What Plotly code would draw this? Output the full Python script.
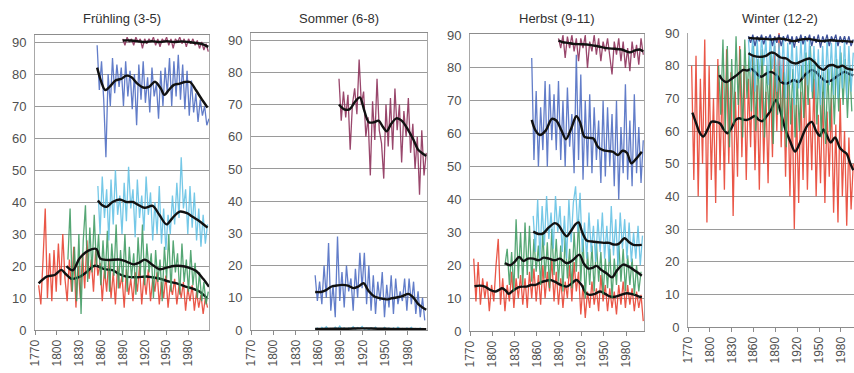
import plotly.graph_objects as go

# ---------------- data ----------------
STEP = 3

# Panel 1: Frühling (3-5)
fr_red_start = 1775
fr_red = [14, 8, 22, 38, 10, 24, 9, 25, 12, 27, 14, 30, 16, 9, 22, 12, 26, 7, 20, 10, 24, 13, 28, 16, 22, 12, 25, 17, 21, 9,
          19, 12, 22, 10, 18, 8, 20, 13, 17, 7, 19, 11, 16, 9, 18, 12, 20, 8, 17, 11, 19, 9, 16, 12, 18, 8, 15, 10, 17, 7,
          14, 11, 16, 8, 14, 10, 15, 6, 13, 9, 14, 6, 12, 7, 11, 5, 10, 7]
fr_red_sm_x = [1775, 1786, 1797, 1806, 1812, 1820, 1830, 1840, 1850, 1855, 1865, 1876, 1885, 1895, 1910, 1922, 1930, 1940, 1954, 1965, 1977, 1985, 1995, 2005]
fr_red_sm_y = [14.6, 16.7, 17.2, 18.8, 17.5, 16, 16.5, 18, 20, 20, 19, 18.7, 17.5, 16.7, 16.5, 16.7, 16.5, 16.1, 15.1, 14.5, 13.5, 13, 12, 10]
fr_green_start = 1815
fr_green = [22, 38, 12, 26, 9, 30, 5, 28, 39, 15, 32, 18, 36, 20, 30, 14, 28, 16, 31, 12, 27, 17, 33, 13, 25, 15, 30, 12, 26, 16,
            24, 11, 29, 17, 33, 14, 27, 18, 24, 10, 25, 15, 22, 9, 26, 16, 30, 12, 28, 18, 24, 11, 27, 15, 22, 12, 25, 14, 21, 10,
            18, 9, 15, 8, 12]
fr_green_sm_x = [1813, 1822, 1831, 1843, 1854, 1859, 1868, 1886, 1895, 1905, 1912, 1920, 1930, 1940, 1950, 1960, 1970, 1980, 1990, 2000, 2008]
fr_green_sm_y = [20, 18.7, 22.4, 24.8, 25.3, 22.4, 21.9, 22, 21.4, 20.5, 21, 22, 20.5, 19, 19.5, 20, 20, 19.5, 18.5, 16, 13.5]
fr_cyan_start = 1856
fr_cyan = [45, 30, 48, 35, 44, 28, 47, 33, 50, 36, 42, 30, 46, 34, 51, 38, 44, 29, 47, 35, 42, 31, 48, 36, 43, 28, 40, 30, 45, 27,
           38, 25, 36, 30, 42, 33, 46, 35, 54, 38, 44, 30, 45, 32, 43, 28, 38, 26, 36, 27, 33]
fr_cyan_sm_x = [1856, 1862, 1868, 1876, 1886, 1895, 1904, 1912, 1920, 1931, 1940, 1950, 1958, 1968, 1978, 1986, 1995, 2006]
fr_cyan_sm_y = [40.5, 39, 38.5, 40, 40.8, 40, 40, 39, 38.2, 38.8, 36, 33, 35, 37, 36.5, 35.3, 34, 32]
fr_blue_start = 1855
fr_blue = [89, 75, 84, 72, 54, 80, 70, 85, 74, 83, 76, 82, 70, 84, 73, 81, 69, 80, 64, 83, 72, 84, 71, 79, 68, 82, 73, 77, 66, 81,
           70, 82, 74, 85, 70, 84, 73, 86, 72, 83, 69, 81, 67, 78, 68, 74, 65, 72, 67, 70, 64, 66]
fr_blue_sm_x = [1855, 1860, 1866, 1872, 1880, 1888, 1895, 1902, 1910, 1918, 1926, 1934, 1942, 1947, 1953, 1960, 1968, 1975, 1982, 1990, 1997, 2006]
fr_blue_sm_y = [82, 78, 75, 76, 78, 78.5, 79.5, 79, 77, 75.8, 76, 77.6, 75.5, 73.5, 75, 76.6, 77, 77.5, 77.5, 75, 72.5, 69.5]
fr_maroon_start = 1890
fr_maroon = [91, 89, 91.5, 90, 91, 89, 91.5, 90, 91, 88, 91, 89.5, 91, 90, 91.5, 89, 91, 88.5, 91, 90, 91.5, 89, 91, 88, 91,
             90, 91.5, 89.5, 91, 88.5, 91, 89.5, 91, 89, 90.5, 88, 90, 87.5, 89.5, 87]
fr_maroon_sm_x = [1890, 1900, 1910, 1920, 1930, 1940, 1950, 1960, 1970, 1980, 1990, 2000, 2007]
fr_maroon_sm_y = [90.5, 90.5, 90.3, 90, 90.3, 90, 90.3, 90, 90.2, 90, 89.7, 89.3, 88.5]

# Panel 2: Sommer (6-8)
so_blue_start = 1856
so_blue = [17, 9, 15, 8, 20, 10, 27, 6, 14, 4, 29, 9, 18, 7, 20, 12, 16, 6, 19, 10, 24, 13, 24, 8, 20, 6, 17, 5, 15, 9,
           18, 4, 14, 7, 17, 5, 16, 8, 12, 9, 16, 6, 16, 8, 15, 5, 12, 4, 10, 3]
so_blue_sm_x = [1856, 1864, 1870, 1878, 1885, 1892, 1900, 1907, 1914, 1921, 1928, 1936, 1944, 1952, 1958, 1965, 1973, 1981, 1988, 1994, 2000, 2005]
so_blue_sm_y = [11.8, 11.8, 12.3, 13.5, 13.8, 14, 13.8, 13, 13.5, 14.5, 12, 10.3, 9.8, 9.5, 9.8, 10.1, 10.5, 11.2, 10, 8.1, 7, 6.3]
so_cyan_start = 1856
so_cyan = [0.2, 0.6, 0.1, 0.8, 0.3, 1.0, 0.2, 0.5, 0.1, 0.9, 0.3, 1.2, 0.2, 0.7, 0.1, 0.6, 0.3, 1.0, 0.2, 0.8, 0.4, 1.1, 0.2, 0.6, 0.1,
           0.7, 0.3, 0.9, 0.2, 0.5, 0.1, 0.8, 0.3, 0.6, 0.1, 0.7, 0.2, 0.9, 0.3, 0.5, 0.1, 0.6, 0.2, 0.8, 0.1, 0.5, 0.2, 0.6, 0.1, 0.4]
so_cyan_sm_x = [1856, 1880, 1900, 1920, 1940, 1960, 1980, 2005]
so_cyan_sm_y = [0.3, 0.4, 0.4, 0.5, 0.4, 0.35, 0.3, 0.25]
so_maroon_start = 1888
so_maroon = [78, 65, 74, 66, 73, 56, 70, 75, 67, 84, 70, 74, 60, 66, 48, 71, 59, 78, 62, 58, 47, 70, 57, 72, 56, 75, 62, 70, 52, 68,
             60, 72, 55, 64, 50, 60, 42, 62, 48, 55]
so_maroon_sm_x = [1888, 1895, 1902, 1910, 1916, 1922, 1928, 1935, 1941, 1947, 1952, 1958, 1965, 1972, 1981, 1988, 1994, 2000, 2005]
so_maroon_sm_y = [70, 68.5, 68.5, 71, 72.2, 68, 64.5, 64.5, 65, 63, 61.7, 64, 65.7, 65, 62, 59, 56, 54.8, 54]

# Panel 3: Herbst (9-11)
he_red_start = 1775
he_red = [22, 9, 21, 8, 16, 10, 15, 6, 14, 9, 20, 28, 8, 16, 6, 14, 9, 18, 7, 16, 10, 17, 8, 16, 7, 18, 10, 19, 9, 17,
          8, 20, 10, 18, 12, 22, 9, 18, 8, 16, 7, 15, 10, 20, 9, 21, 12, 18, 5, 14, 4, 12, 7, 15, 8, 13, 6, 17, 9, 14,
          6, 13, 7, 12, 5, 14, 8, 15, 7, 14, 8, 13, 6, 12, 7, 11, 3]
he_red_sm_x = [1776, 1783, 1790, 1797, 1804, 1809, 1813, 1818, 1822, 1828, 1835, 1841, 1846, 1852, 1858, 1865, 1871, 1878, 1884, 1892,
               1900, 1907, 1913, 1920, 1926, 1931, 1938, 1945, 1952, 1958, 1965, 1973, 1981, 1988, 1995, 2001]
he_red_sm_y = [13.6, 13.8, 13.5, 12.5, 12, 12.5, 13, 12.3, 11.3, 12.3, 13.3, 13.5, 13.5, 14, 14, 14.8, 15.2, 15.5, 15, 14,
               13.5, 14.5, 15.5, 14, 11.5, 11, 11.3, 12, 11.3, 10.5, 10.4, 11, 11.5, 11.2, 10.7, 10.2]
he_green_start = 1817
he_green = [20, 25, 14, 24, 12, 34, 16, 30, 14, 33, 17, 32, 15, 28, 18, 26, 14, 30, 16, 27, 13, 31, 17, 28, 15, 26, 12, 29, 16, 25,
            13, 30, 18, 34, 15, 28, 10, 24, 14, 26, 12, 27, 15, 24, 11, 22, 13, 25, 10, 22, 14, 27, 15, 25, 12, 23, 14, 22, 11, 20,
            12, 18]
he_green_sm_x = [1817, 1824, 1830, 1836, 1842, 1848, 1855, 1862, 1869, 1876, 1884, 1891, 1900, 1908, 1917, 1923, 1929, 1935, 1940,
                 1947, 1954, 1961, 1968, 1976, 1984, 1994, 2001]
he_green_sm_y = [20.7, 20, 21, 22.5, 21.3, 22, 22, 21.5, 22.3, 22, 21.5, 22, 20.6, 21.5, 23.2, 20.5, 19, 19.2, 19.8,
                 18.5, 17.5, 16.3, 18.5, 20.2, 19.5, 18, 16.8]
he_cyan_start = 1855
he_cyan = [35, 24, 40, 22, 38, 26, 41, 28, 36, 25, 41, 30, 38, 24, 35, 22, 40, 27, 39, 44, 30, 42, 24, 33, 22, 36, 24, 32, 21, 34,
           24, 36, 22, 32, 21, 38, 23, 34, 20, 36, 25, 34, 22, 33, 21, 30, 22, 32, 20, 29]
he_cyan_sm_x = [1855, 1862, 1868, 1876, 1884, 1889, 1895, 1900, 1906, 1912, 1916, 1921, 1927, 1934, 1942, 1950, 1957, 1963, 1970,
                1978, 1984, 1990, 2001]
he_cyan_sm_y = [30.2, 29.5, 29.6, 31.5, 32.8, 32.2, 30, 28.8, 30.5, 32.5, 33, 30, 27.5, 27.2, 27, 26.8, 26.8, 26.3, 26.5,
                28.2, 27, 26.2, 26.2]
he_blue_start = 1853
he_blue = [83, 52, 73, 50, 68, 55, 76, 50, 75, 58, 72, 55, 76, 52, 70, 50, 74, 56, 66, 48, 84, 52, 78, 46, 70, 50, 72, 48, 68, 52,
           64, 45, 70, 47, 68, 50, 66, 44, 70, 40, 62, 48, 75, 46, 64, 44, 72, 48, 62, 45, 58]
he_blue_sm_x = [1853, 1858, 1864, 1872, 1880, 1886, 1893, 1899, 1906, 1913, 1918, 1924, 1930, 1936, 1942, 1949, 1956, 1962, 1969,
                1975, 1981, 1987, 1994, 2001]
he_blue_sm_y = [64.2, 61, 59.6, 61, 64.5, 64, 61, 58.3, 61.5, 65.3, 63.5, 59, 58.7, 58.5, 56, 55, 54.7, 54.5, 53.5,
                54.8, 54.2, 51, 52.5, 54.5]
he_maroon_start = 1889
he_maroon = [89, 86, 90, 83, 89.5, 86, 90, 85, 89, 82, 89, 86, 90, 80, 88, 85, 90, 84, 89, 82, 88, 85, 89, 83, 78, 88, 84, 89, 82, 88,
             80, 86, 79, 88, 83, 87, 81, 89, 84]
he_maroon_sm_x = [1889, 1895, 1902, 1909, 1920, 1931, 1943, 1954, 1964, 1974, 1985, 1992, 1998, 2003]
he_maroon_sm_y = [88.3, 87.8, 87.6, 87.3, 87.2, 87, 86.5, 86, 85.8, 85.6, 84.7, 85.3, 85.6, 85]

# Panel 4: Winter (12-2)
wi_red_start = 1775
wi_red = [80, 45, 83, 40, 76, 50, 88, 32, 80, 45, 70, 38, 82, 48, 75, 42, 85, 50, 78, 34, 72, 46, 86, 52, 80, 45, 76, 55, 83, 48,
          74, 42, 80, 50, 72, 44, 78, 52, 86, 60, 90, 55, 82, 46, 75, 40, 70, 30, 68, 38, 72, 45, 78, 42, 70, 48, 76, 40, 65, 44,
          72, 38, 66, 46, 70, 35, 62, 32, 70, 40, 60, 31, 58, 36, 50]
wi_red_sm_x = [1776, 1781, 1786, 1791, 1797, 1802, 1808, 1814, 1819, 1824, 1830, 1835, 1840, 1846, 1851, 1857, 1862, 1867, 1872,
               1878, 1884, 1891, 1897, 1903, 1910, 1917, 1923, 1929, 1935, 1940, 1946, 1951, 1956, 1960, 1966, 1972, 1979, 1984,
               1988, 1993, 1997]
wi_red_sm_y = [65.6, 62.5, 59.5, 58.3, 60.5, 62.8, 62.8, 62.3, 60.5, 59.3, 61, 63.3, 63.9, 63.5, 63.4, 64, 64.6, 63.5, 63,
               64.5, 66.5, 69.5, 66, 61, 57, 53.7, 56, 59.5, 62, 62.8, 60, 58.5, 60.5, 59, 56.5, 58, 54.7, 53.7,
               53, 50, 48]
wi_green_start = 1812
wi_green = [80, 65, 88, 60, 86, 55, 82, 62, 89, 68, 85, 58, 88, 70, 84, 66, 86, 60, 82, 64, 85, 58, 80, 66, 84, 56, 82, 65, 80, 60,
            78, 55, 82, 62, 79, 58, 76, 60, 80, 64, 84, 68, 86, 70, 82, 62, 80, 58, 78, 56, 79, 60, 80, 62, 82, 66, 84, 68, 82, 64,
            80, 66]
wi_green_sm_x = [1813, 1818, 1823, 1830, 1837, 1846, 1851, 1857, 1862, 1867, 1871, 1877, 1883, 1892, 1898, 1905, 1910, 1915, 1922,
                 1930, 1935, 1940, 1946, 1952, 1960, 1967, 1974, 1980, 1985, 1991, 1997]
wi_green_sm_y = [77.1, 75.5, 75, 76, 77.1, 78.7, 78.5, 79, 78.1, 77, 76.6, 77.5, 78.1, 77, 75, 74.5, 75, 75.6, 75,
                 77, 78, 78.7, 78, 76.5, 75.1, 75.5, 76.6, 77.5, 78.1, 77.5, 77]
wi_cyan_start = 1853
wi_cyan = [88, 78, 89, 72, 88, 76, 89, 80, 88, 74, 89, 79, 88, 72, 87, 75, 89, 70, 87, 74, 88, 68, 86, 73, 88, 76, 89, 74, 88, 72,
           86, 70, 85, 68, 86, 70, 88, 74, 87, 71, 88, 70, 86, 73, 88, 70, 86, 72, 84]
wi_cyan_sm_x = [1853, 1860, 1869, 1877, 1884, 1889, 1897, 1905, 1912, 1919, 1927, 1937, 1944, 1950, 1956, 1963, 1969, 1976, 1982,
                1988, 1997]
wi_cyan_sm_y = [83.8, 83, 82.7, 83, 84, 83.8, 82.5, 82.2, 81, 80.7, 81.5, 82.2, 81, 79.5, 78.7, 80, 80.2, 79.5, 80,
                79.2, 78.7]
wi_navy_start = 1853
wi_navy = [89, 87, 89.5, 86, 89, 87.5, 89.5, 86.5, 89, 88, 89.5, 86, 89, 87, 89.5, 86, 89, 87.5, 89.5, 86.5, 89, 85.5, 89, 87, 89.5,
           86.5, 89, 87.5, 89.5, 86, 89, 87, 89.5, 85.5, 89, 87, 89.5, 86, 89, 87.5, 89.5, 86, 89, 87, 89, 86.5, 89, 86, 88]
wi_navy_sm_x = [1853, 1865, 1875, 1885, 1895, 1905, 1915, 1925, 1935, 1945, 1955, 1965, 1975, 1985, 1997]
wi_navy_sm_y = [88.5, 88.3, 88.2, 88, 88.3, 88, 87.5, 88, 88.2, 87.8, 87.5, 87.8, 87.6, 87.5, 87.3]

titles = ["Frühling (3-5)", "Sommer (6-8)", "Herbst (9-11)", "Winter (12-2)"]
year_ticks = [1770, 1800, 1830, 1860, 1890, 1920, 1950, 1980]
value_ticks = [0, 10, 20, 30, 40, 50, 60, 70, 80, 90]

# ---------------- styling ----------------
C_RED = "#e8402f"
C_GREEN = "#3f9b62"
C_CYAN = "#62c1e4"
C_BLUE = "#4d6cc2"
C_MAROON = "#8c2e58"
C_NAVY = "#243a8c"
C_SMOOTH = "#111111"

W, H = 854, 373
# pixel geometry of each panel: (left, right, bottom, top, xmax, ymax)
panels = [
    (35, 209, 330, 35, 2008, 92.2),
    (251, 427, 330, 33, 2006, 92.2),
    (470, 644, 331, 34, 2004, 90.3),
    (688, 854, 327, 33, 1998, 90.0),
]


def yrs(start, vals):
    return list(range(start, start + STEP * len(vals), STEP))


fig = go.Figure()


def noisy(i, start, vals, color):
    fig.add_trace(go.Scatter(x=yrs(start, vals), y=vals, mode="lines",
                             line=dict(color=color, width=1.3), opacity=0.88,
                             xaxis=f"x{i if i > 1 else ''}", yaxis=f"y{i if i > 1 else ''}",
                             showlegend=False, hoverinfo="skip"))


def smooth(i, xs, ys):
    fig.add_trace(go.Scatter(x=xs, y=ys, mode="lines",
                             line=dict(color=C_SMOOTH, width=2.4, shape="spline", smoothing=0.9),
                             xaxis=f"x{i if i > 1 else ''}", yaxis=f"y{i if i > 1 else ''}",
                             showlegend=False, hoverinfo="skip"))


# Panel 1
noisy(1, fr_red_start, fr_red, C_RED); smooth(1, fr_red_sm_x, fr_red_sm_y)
noisy(1, fr_green_start, fr_green, C_GREEN); smooth(1, fr_green_sm_x, fr_green_sm_y)
noisy(1, fr_cyan_start, fr_cyan, C_CYAN); smooth(1, fr_cyan_sm_x, fr_cyan_sm_y)
noisy(1, fr_blue_start, fr_blue, C_BLUE); smooth(1, fr_blue_sm_x, fr_blue_sm_y)
noisy(1, fr_maroon_start, fr_maroon, C_MAROON); smooth(1, fr_maroon_sm_x, fr_maroon_sm_y)
# Panel 2
noisy(2, so_cyan_start, so_cyan, C_CYAN); smooth(2, so_cyan_sm_x, so_cyan_sm_y)
noisy(2, so_blue_start, so_blue, C_BLUE); smooth(2, so_blue_sm_x, so_blue_sm_y)
noisy(2, so_maroon_start, so_maroon, C_MAROON); smooth(2, so_maroon_sm_x, so_maroon_sm_y)
# Panel 3
noisy(3, he_red_start, he_red, C_RED); smooth(3, he_red_sm_x, he_red_sm_y)
noisy(3, he_green_start, he_green, C_GREEN); smooth(3, he_green_sm_x, he_green_sm_y)
noisy(3, he_cyan_start, he_cyan, C_CYAN); smooth(3, he_cyan_sm_x, he_cyan_sm_y)
noisy(3, he_blue_start, he_blue, C_BLUE); smooth(3, he_blue_sm_x, he_blue_sm_y)
noisy(3, he_maroon_start, he_maroon, C_MAROON); smooth(3, he_maroon_sm_x, he_maroon_sm_y)
# Panel 4
noisy(4, wi_red_start, wi_red, C_RED); smooth(4, wi_red_sm_x, wi_red_sm_y)
noisy(4, wi_green_start, wi_green, C_GREEN); smooth(4, wi_green_sm_x, wi_green_sm_y)
noisy(4, wi_cyan_start, wi_cyan, C_CYAN); smooth(4, wi_cyan_sm_x, wi_cyan_sm_y)
noisy(4, wi_navy_start, wi_navy, C_NAVY); smooth(4, wi_navy_sm_x, wi_navy_sm_y)

layout = dict(
    template="none",
    width=W, height=H,
    margin=dict(l=0, r=0, t=0, b=0, pad=0),
    paper_bgcolor="white", plot_bgcolor="white",
    font=dict(family="Liberation Sans, Arial, sans-serif", color="#404040"),
    annotations=[],
)

for i, (l, r, b, t, xmax, ymax) in enumerate(panels, start=1):
    sfx = "" if i == 1 else str(i)
    last = i == 4
    layout[f"xaxis{sfx}"] = dict(
        domain=[l / W, min(r / W, 1.0)], range=[1770, xmax], anchor=f"y{sfx}", automargin=False,
        tickvals=year_ticks, tickangle=-90, ticks="outside", ticklen=4, tickcolor="#8c8c8c",
        tickfont=dict(size=12, color="#505050"), showgrid=False, zeroline=False,
        showline=True, linecolor="#8c8c8c", linewidth=1, mirror=not last,
    )
    layout[f"yaxis{sfx}"] = dict(
        domain=[1 - b / H, 1 - t / H], range=[0, ymax], anchor=f"x{sfx}", automargin=False,
        tickvals=value_ticks, tickfont=dict(size=13, color="#505050"),
        showgrid=True, gridcolor="#9a9a9a", gridwidth=1, zeroline=False,
        showline=True, linecolor="#a8a8a8", linewidth=1, mirror=not last,
        ticks="outside", ticklen=5, tickcolor="rgba(0,0,0,0)",
    )
    layout["annotations"].append(dict(
        text=titles[i - 1], x=(l + min(r, 852)) / 2 / W + (0.012 if last else 0.0), y=1 - 18 / H,
        xref="paper", yref="paper", showarrow=False,
        font=dict(size=13, color="#303030"), xanchor="center", yanchor="middle",
    ))

fig.update_layout(**layout)
fig.write_html("out.html")
